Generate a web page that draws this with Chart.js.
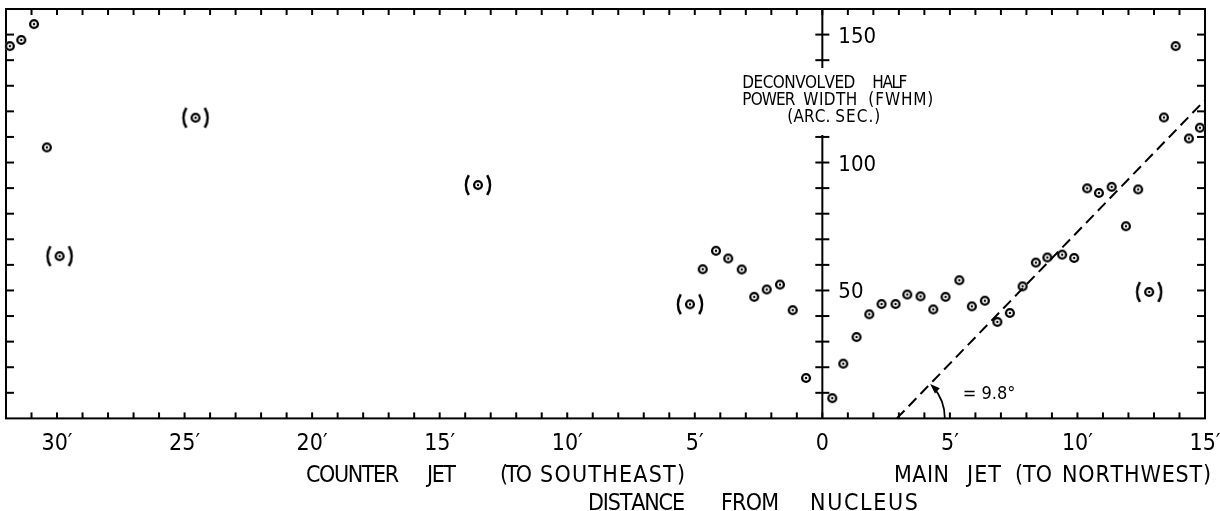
<!DOCTYPE html>
<html>
<head>
<meta charset="utf-8">
<script src="https://cdn.jsdelivr.net/npm/chart.js@4.4.0/dist/chart.umd.min.js"></script>
<style>
  html, body { margin: 0; padding: 0; background: #fff; }
  #wrap { width: 1220px; height: 511px; }
</style>
</head>
<body>
<div id="wrap"><canvas id="fwhmChart" width="1220" height="511"></canvas></div>
<script>
// distances in arcmin from the nucleus, widths in arcsec
var counterDist  = [31.85, 31.4, 30.9, 30.4, 4.69, 4.17, 3.69, 3.16, 2.67, 2.18, 1.66, 1.16, 0.64];
var counterWidth = [145.5, 147.9, 154.1, 105.9, 58.3, 65.5, 62.5, 58.2, 47.5, 50.4, 52.3, 42.3, 15.8];
var counterDistUncertain  = [29.9, 24.57, 13.5, 5.19];
var counterWidthUncertain = [63.4, 117.5, 91.2, 44.6];

var mainDist  = [0.39, 0.82, 1.34, 1.84, 2.32, 2.87, 3.33, 3.85, 4.35, 4.83, 5.37, 5.86, 6.37, 6.86, 7.35,
                 7.85, 8.37, 8.82, 9.40, 9.87, 10.38, 10.84, 11.34, 11.90, 12.38, 13.39, 13.85, 14.37, 14.80];
var mainWidth = [7.9, 21.4, 31.8, 40.7, 44.7, 44.7, 48.4, 47.7, 42.6, 47.5, 54.0, 43.8, 46.0, 37.7, 41.2,
                 51.6, 60.9, 62.9, 64.0, 62.7, 89.9, 88.1, 90.5, 75.1, 89.5, 117.6, 145.5, 109.4, 113.6];
var mainDistUncertain  = [12.81];
var mainWidthUncertain = [49.4];

// dashed fit along the main jet
var fitDist  = [2.92, 15];
var fitWidth = [0, 124.4];
var fitAngleText = '= 9.8°';

var xLabelAt   = [-30, -25, -20, -15, -10, -5, 0, 5, 10, 15];
var xLabelText = ['30′', '25′', '20′', '15′', '10′', '5′', '0', '5′', '10′', '15′'];
var yLabelAt   = [50, 100, 150];

var X_MIN = -32, X_MAX = 15, Y_MIN = 0, Y_MAX = 160;
var FONT = '"Liberation Sans Narrow", "DejaVu Sans Condensed", "Liberation Sans", sans-serif';

function makeMarker(withParens) {
    var w = withParens ? 32 : 12, h = withParens ? 26 : 12;
    var c = document.createElement('canvas');
    c.width = w; c.height = h;
    var g = c.getContext('2d');
    var cx = w / 2, cy = h / 2;
    g.fillStyle = '#fff';
    g.beginPath(); g.arc(cx, cy, 5, 0, Math.PI * 2); g.fill();
    g.strokeStyle = '#000'; g.lineWidth = 2.3;
    g.beginPath(); g.arc(cx, cy, 3.9, 0, Math.PI * 2); g.stroke();
    g.fillStyle = '#000';
    g.beginPath(); g.arc(cx, cy, 1.2, 0, Math.PI * 2); g.fill();
    if (withParens) {
        g.lineWidth = 2.6;
        g.beginPath(); g.arc(cx + 7, cy, 19, Math.PI - 0.55, Math.PI + 0.55); g.stroke();
        g.beginPath(); g.arc(cx - 7, cy, 19, -0.55, 0.55); g.stroke();
    }
    return c;
}
var ring = makeMarker(false);
var ringParen = makeMarker(true);

function toPoints(xs, ys, sign) {
    return xs.map(function (d, i) { return { x: sign * d, y: ys[i] }; });
}

// spread a word so it fills x0..x1
function spread(ctx, text, x0, x1, y) {
    var chars = text.split('');
    var widths = chars.map(function (c) { return ctx.measureText(c).width; });
    var total = widths.reduce(function (a, b) { return a + b; }, 0);
    var gap = chars.length > 1 ? (x1 - x0 - total) / (chars.length - 1) : 0;
    var x = x0;
    chars.forEach(function (c, i) { ctx.fillText(c, x, y); x += widths[i] + gap; });
}

function seg(ctx, x1, y1, x2, y2) {
    ctx.beginPath(); ctx.moveTo(x1, y1); ctx.lineTo(x2, y2); ctx.stroke();
}

var framePlugin = {
    id: 'frame',
    beforeDatasetsDraw: function (chart) {
        var a = chart.chartArea, xs = chart.scales.x, ys = chart.scales.y, ctx = chart.ctx;
        var ax = xs.getPixelForValue(0);
        ctx.save();
        ctx.strokeStyle = '#000';
        ctx.lineWidth = 2;
        ctx.strokeRect(a.left, a.top, a.right - a.left, a.bottom - a.top);
        for (var v = X_MIN + 1; v < X_MAX; v++) {
            var px = xs.getPixelForValue(v);
            seg(ctx, px, a.bottom, px, a.bottom - 6);
            seg(ctx, px, a.top, px, a.top + 6);
        }
        var gapTop = a.top + 59, gapBottom = a.top + 126;
        for (var w = 10; w < Y_MAX; w += 10) {
            var py = ys.getPixelForValue(w);
            seg(ctx, a.left, py, a.left + 8, py);
            seg(ctx, a.right, py, a.right - 8, py);
            if (py < gapTop || py > gapBottom) seg(ctx, ax - 7, py, ax + 7, py);
        }
        seg(ctx, ax, a.bottom, ax, gapBottom);
        seg(ctx, ax, gapTop, ax, a.top);

        ctx.fillStyle = '#000';
        ctx.font = '22px ' + FONT;
        ctx.textBaseline = 'alphabetic';
        ctx.textAlign = 'left';
        yLabelAt.forEach(function (v) {
            ctx.fillText(String(v), ax + 16, ys.getPixelForValue(v) + 8);
        });
        ctx.restore();
    },
    afterDraw: function (chart) {
        var a = chart.chartArea, xs = chart.scales.x, ys = chart.scales.y, ctx = chart.ctx;
        var ax = xs.getPixelForValue(0);
        ctx.save();
        ctx.fillStyle = '#000';
        ctx.strokeStyle = '#000';
        ctx.textBaseline = 'alphabetic';
        ctx.textAlign = 'left';

        // y title, sitting in the break of the nucleus axis
        ctx.font = '17px ' + FONT;
        var t = a.top;
        spread(ctx, 'DECONVOLVED', ax - 80, ax + 33, t + 79);
        spread(ctx, 'HALF', ax + 50, ax + 85, t + 79);
        spread(ctx, 'POWER', ax - 80, ax - 27, t + 96);
        spread(ctx, 'WIDTH', ax - 19, ax + 35, t + 96);
        spread(ctx, '(FWHM)', ax + 46, ax + 111, t + 96);
        spread(ctx, '(ARC.', ax - 35, ax + 8, t + 113);
        spread(ctx, 'SEC.)', ax + 13, ax + 58, t + 113);

        // x titles
        ctx.font = '23px ' + FONT;
        var b = a.bottom;
        spread(ctx, 'COUNTER', 306, 399, b + 64);
        spread(ctx, 'JET', 427, 456, b + 64);
        spread(ctx, '(TO', 500, 532, b + 64);
        spread(ctx, 'SOUTHEAST)', 540, 685, b + 64);
        spread(ctx, 'MAIN', 894, 949, b + 64);
        spread(ctx, 'JET', 967, 1001, b + 64);
        spread(ctx, '(TO', 1015, 1052, b + 64);
        spread(ctx, 'NORTHWEST)', 1062, 1211, b + 64);
        spread(ctx, 'DISTANCE', 588, 685, b + 92);
        spread(ctx, 'FROM', 721, 779, b + 92);
        spread(ctx, 'NUCLEUS', 810, 918, b + 92);

        // angle of the fit line
        var cx0 = xs.getPixelForValue(fitDist[0]), cy0 = ys.getPixelForValue(fitWidth[0]);
        var cx1 = xs.getPixelForValue(fitDist[1]), cy1 = ys.getPixelForValue(fitWidth[1]);
        var phi = Math.atan2(cy1 - cy0, cx1 - cx0);
        var r = 48;
        ctx.lineWidth = 1.8;
        ctx.beginPath(); ctx.arc(cx0, cy0, r, phi + 0.08, 0); ctx.stroke();
        var tipX = cx0 + r * Math.cos(phi), tipY = cy0 + r * Math.sin(phi);
        var dx = Math.sin(phi), dy = -Math.cos(phi);
        var L = 10, W = 3.5;
        ctx.beginPath();
        ctx.moveTo(tipX, tipY);
        ctx.lineTo(tipX - dx * L - dy * W, tipY - dy * L + dx * W);
        ctx.lineTo(tipX - dx * L + dy * W, tipY - dy * L - dx * W);
        ctx.closePath(); ctx.fill();
        ctx.font = '18px ' + FONT;
        ctx.fillText(fitAngleText, cx0 + 66, cy0 - 19);
        ctx.restore();
    }
};

new Chart(document.getElementById('fwhmChart').getContext('2d'), {
    type: 'scatter',
    data: {
        datasets: [
            {
                label: 'fit',
                data: toPoints(fitDist, fitWidth, 1),
                showLine: true,
                borderColor: '#000',
                borderWidth: 2,
                borderDash: [11, 6],
                pointRadius: 0
            },
            {
                label: 'main jet',
                data: toPoints(mainDist, mainWidth, 1),
                pointStyle: ring
            },
            {
                label: 'counter jet',
                data: toPoints(counterDist, counterWidth, -1),
                pointStyle: ring
            },
            {
                label: 'uncertain',
                data: toPoints(counterDistUncertain, counterWidthUncertain, -1)
                    .concat(toPoints(mainDistUncertain, mainWidthUncertain, 1)),
                pointStyle: ringParen
            }
        ]
    },
    options: {
        responsive: false,
        animation: false,
        clip: false,
        layout: { padding: { left: 6, right: 15, top: 9, bottom: 41 } },
        plugins: { legend: { display: false }, tooltip: { enabled: false } },
        scales: {
            x: {
                type: 'linear',
                min: X_MIN,
                max: X_MAX,
                grid: { display: false, drawTicks: false },
                border: { display: false },
                afterFit: function (scale) {
                    // let the end labels hang over the frame instead of shrinking it
                    scale.paddingLeft = 0;
                    scale.paddingRight = 0;
                },
                ticks: {
                    stepSize: 1,
                    autoSkip: false,
                    maxRotation: 0,
                    padding: 12,
                    color: '#000',
                    font: { family: FONT, size: 23 },
                    callback: function (v) {
                        var i = xLabelAt.indexOf(v);
                        return i >= 0 ? xLabelText[i] : '';
                    }
                }
            },
            y: {
                type: 'linear',
                min: Y_MIN,
                max: Y_MAX,
                display: false
            }
        }
    },
    plugins: [framePlugin]
});
</script>
</body>
</html>
